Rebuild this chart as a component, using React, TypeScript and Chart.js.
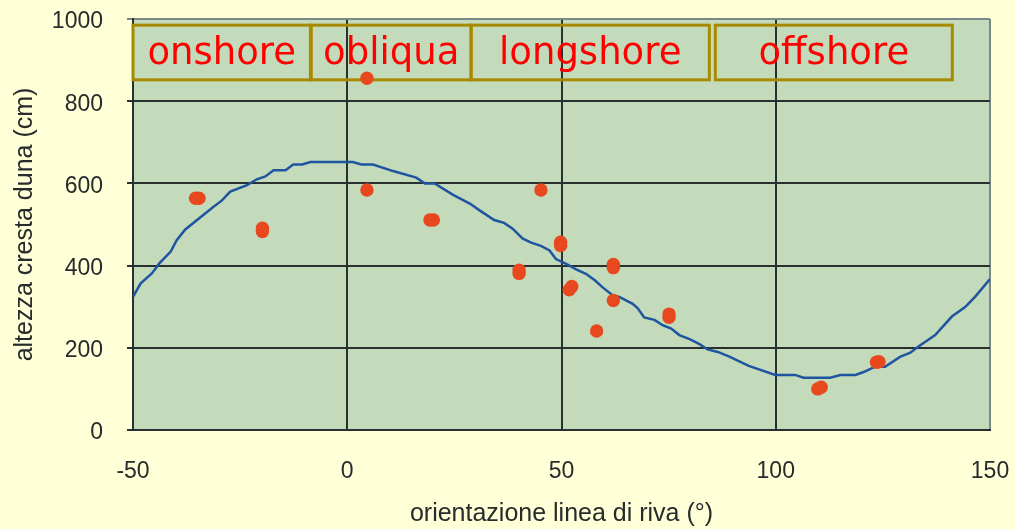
import React, { useEffect, useRef } from "react";
import { Chart, registerables } from "chart.js";

Chart.register(...registerables);

// ---- Data ----
const curveX = [-50, -48.2, -45.6, -43.8, -41.2, -39.8, -37.8, -33.6, -31.2, -29.3, -27.3, -23.4, -21.1, -19.1, -17.2, -14.4, -12.6, -10.5, -8.6, 1.3, 3.3, 6, 10.7, 16.1, 18.1, 20.4, 24.7, 28.6, 30.8, 34.3, 36.6, 38.6, 40.9, 42.9, 45.2, 47.2, 48.7, 51.1, 53.4, 55.7, 57.7, 59.6, 61.9, 63.5, 66.6, 67.8, 69.3, 71.7, 73.6, 75.6, 77.5, 79.9, 82.2, 84.1, 86.5, 89.3, 93.7, 99.9, 104.5, 106.5, 112.7, 115.1, 118.6, 120.5, 123.2, 125.5, 129, 131.4, 133.3, 137.2, 141.1, 144.2, 146.5, 150];
const curveY = [324, 357, 381, 406, 434, 462, 488, 523, 543, 558, 580, 596, 610, 617, 632, 632, 646, 646, 652, 652, 646, 646, 630, 614, 600, 600, 572, 551, 535, 511, 504, 490, 466, 456, 448, 437, 416, 404, 391, 380, 365, 347, 328, 324, 307, 296, 274, 268, 255, 247, 231, 221, 209, 196, 190, 178, 156, 134, 134, 127, 127, 134, 134, 141, 154, 154, 178, 188, 203, 231, 276, 299, 324, 367];

const pointsX = [-35.4, -34.6, -19.8, -19.8, 4.6, 4.6, 19.3, 20.1, 45.2, 49.8, 49.8, 40.1, 40.1, 62.1, 62.1, 51.8, 52.4, 62.1, 58.2, 75.1, 75.1, 109.8, 110.6, 123.5, 124.1];
const pointsY = [564, 564, 483, 491, 584, 856, 511, 511, 584, 449, 457, 381, 389, 395, 403, 341, 349, 315, 241, 274, 282, 100, 104, 165, 166];

const zoneLabels = ["onshore", "obliqua", "longshore", "offshore"];
const zoneStart = [-50, -8.4, 28.9, 85.9];
const zoneEnd = [-8.6, 28.9, 84.5, 141.2];
const zoneTop = 985;
const zoneBottom = 852;

const xMin = -50, xMax = 150, xStep = 50;
const yMin = 0, yMax = 1000, yStep = 200;

const xTitle = "orientazione linea di riva (°)";
const yTitle = "altezza cresta duna (cm)";

// ---- Styles ----
const PAGE_BG = "#FFFFD8";
const PLOT_BG = "#C3DBBA";
const GRID = "#2A3030";
const EDGE = "#7C8888";
const TEXT = "#262B2B";
const LINE = "#1F55A0";
const DOT = "#E8481E";
const BOX = "#A88A00";
const ZONE_TEXT = "#FF0000";

const bgPlugin = {
  id: "bgPlugin",
  beforeDraw(chart: any) {
    const { ctx, chartArea } = chart;
    ctx.save();
    ctx.fillStyle = PAGE_BG;
    ctx.fillRect(0, 0, chart.width, chart.height);
    ctx.fillStyle = PLOT_BG;
    ctx.fillRect(chartArea.left, chartArea.top, chartArea.right - chartArea.left, chartArea.bottom - chartArea.top);
    ctx.restore();
  },
};

const zonePlugin = {
  id: "zonePlugin",
  beforeDatasetsDraw(chart: any) {
    const { ctx } = chart;
    const xs = chart.scales.x;
    const ys = chart.scales.y;
    ctx.save();
    ctx.lineWidth = 3;
    ctx.strokeStyle = BOX;
    ctx.fillStyle = ZONE_TEXT;
    ctx.font = "37px 'DejaVu Sans', Verdana, sans-serif";
    ctx.textAlign = "center";
    ctx.textBaseline = "middle";
    const yT = ys.getPixelForValue(zoneTop);
    const yB = ys.getPixelForValue(zoneBottom);
    for (let i = 0; i < zoneLabels.length; i++) {
      const x0 = xs.getPixelForValue(zoneStart[i]);
      const x1 = xs.getPixelForValue(zoneEnd[i]);
      ctx.strokeRect(x0, yT, x1 - x0, yB - yT);
      ctx.fillText(zoneLabels[i], (x0 + x1) / 2, (yT + yB) / 2 + 2);
    }
    ctx.restore();
  },
};

export default function App() {
  const ref = useRef<HTMLCanvasElement | null>(null);

  useEffect(() => {
    if (!ref.current) return;
    const curve = curveX.map((x, i) => ({ x, y: curveY[i] }));
    const pts = pointsX.map((x, i) => ({ x, y: pointsY[i] }));
    const tickFont = { family: "'Liberation Sans', Arial, sans-serif", size: 23 };
    const titleFont = { family: "'Liberation Sans', Arial, sans-serif", size: 25 };
    const chart = new Chart(ref.current, {
      type: "scatter",
      data: {
        datasets: [
          {
            label: "curve",
            data: curve,
            showLine: true,
            borderColor: LINE,
            borderWidth: 2.5,
            pointRadius: 0,
            tension: 0,
            order: 2,
          },
          {
            label: "points",
            data: pts,
            showLine: false,
            backgroundColor: DOT,
            borderWidth: 0,
            pointRadius: 6.7,
            order: 1,
          },
        ],
      },
      options: {
        animation: false,
        responsive: false,
        devicePixelRatio: 1,
        layout: { padding: { left: 0, right: 25, top: 19, bottom: 0 } },
        plugins: { legend: { display: false }, tooltip: { enabled: false } },
        scales: {
          x: {
            type: "linear",
            min: xMin,
            max: xMax,
            ticks: { stepSize: xStep, color: TEXT, font: tickFont, padding: 28, maxRotation: 0, callback: (v: any) => String(v) },
            grid: {
              drawTicks: false,
              lineWidth: 2,
              color: (c: any) => (c.tick && c.tick.value === xMax ? EDGE : GRID),
            },
            border: { display: true, color: GRID, width: 2 },
            title: {
              display: true,
              text: xTitle,
              color: TEXT,
              font: titleFont,
              padding: { top: 0, bottom: 0 },
            },
            afterFit: (s: any) => {
              s.height = 99;
              s.paddingLeft = 0;
              s.paddingRight = 0;
            },
          },
          y: {
            type: "linear",
            min: yMin,
            max: yMax,
            ticks: { stepSize: yStep, color: TEXT, font: tickFont, padding: 24, labelOffset: 3, callback: (v: any) => String(v) },
            grid: {
              drawTicks: true,
              tickLength: 6,
              lineWidth: 2,
              color: (c: any) => (c.tick && c.tick.value === yMax ? EDGE : GRID),
            },
            border: { display: true, color: GRID, width: 2 },
            title: {
              display: true,
              text: yTitle,
              color: TEXT,
              font: titleFont,
              padding: { top: 10, bottom: 0 },
            },
            afterFit: (s: any) => {
              s.width = 133;
              s.paddingTop = 0;
              s.paddingBottom = 0;
            },
          },
        },
      },
      plugins: [bgPlugin, zonePlugin],
    });
    return () => chart.destroy();
  }, []);

  return (
    <div style={{ position: "absolute", left: 0, top: 0, width: 1015, height: 529, background: PAGE_BG }}>
      <canvas ref={ref} width={1015} height={529} style={{ display: "block" }} />
    </div>
  );
}
